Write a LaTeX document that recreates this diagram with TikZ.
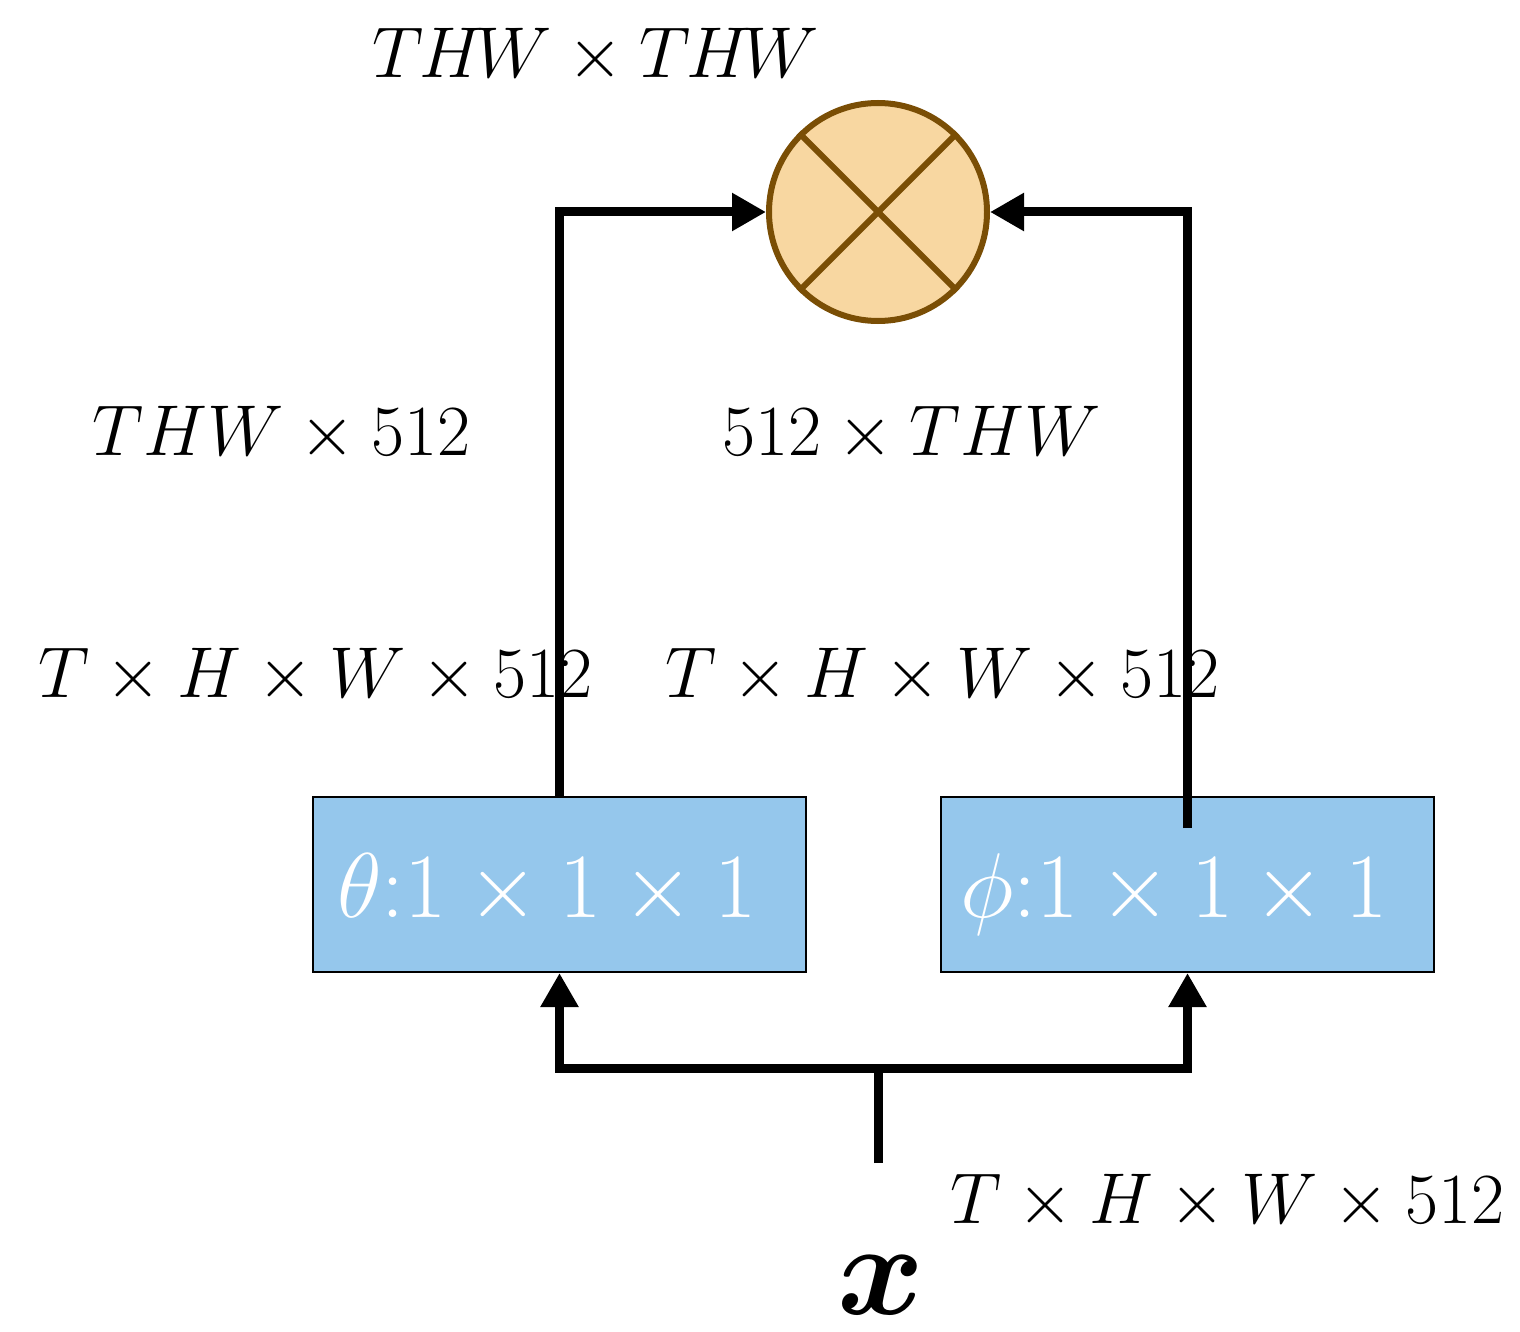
\RequirePackage{fix-cm}
\documentclass[tikz,border=0pt]{standalone}
\usetikzlibrary{arrows.meta}
\definecolor{mulfill}{HTML}{F8D7A1}
\definecolor{muledge}{HTML}{7A4E05}
\definecolor{convfill}{HTML}{95C7EC}
\begin{document}
\begin{tikzpicture}[x=0.5pt,y=-0.5pt,
  conv/.style={draw=black,line width=1pt,fill=convfill,minimum width=246.5pt,
    minimum height=87.5pt,inner sep=0pt},
  convlabel/.style={anchor=base west,inner sep=0pt,text=white,
    font=\fontsize{46}{52}\selectfont},
  flow/.style={line width=4.5pt},
  tip/.style={-{Triangle[length=17pt,width=18pt]}},
  dim/.style={anchor=base west,inner sep=0pt,font=\fontsize{36}{43}\selectfont},
  inputlabel/.style={anchor=base west,inner sep=0pt,font=\fontsize{66}{76}\selectfont\boldmath},
  ]
\useasboundingbox (0,0) rectangle (1520,1332);

% matrix product
\node[circle,draw=muledge,line width=3pt,fill=mulfill,minimum size=109pt,
  inner sep=0pt] (mul) at (878,212) {};
\draw[muledge,line width=3pt] (mul.45) -- (mul.225) (mul.135) -- (mul.315);

% 1x1x1 convolutions
\node[conv] (theta) at (559.5,884.5) {};
\node[conv] (phi) at (1187.5,884.5) {};
\node[convlabel] (thetalab) at (337,917) {$\theta{:}1\times1\times1$};
\node[convlabel] (philab) at (960,917) {$\phi{:}1\times1\times1$};

% connectors
\coordinate (phiout) at (1187,828);
\coordinate (xin) at (878,1163);
\coordinate (split) at (878,1068);
\draw[flow,tip] (theta.north) |- (mul.west);
\draw[flow,tip] (phiout) |- (mul.east);
\draw[flow] (xin) -- (split);
\draw[flow,tip] (split) -| (theta.south);
\draw[flow,tip] (split) -| (phi.south);

% tensor shapes
\node[dim] (dmul) at (372,78) {$T\mkern-1muH\mkern-2muW\times T\mkern-1muH\mkern-2muW$};
\node[dim] (dth) at (92,455) {$THW\times 512$};
\node[dim] (dph) at (722,455) {$512\times THW$};
\node[dim] (dthin) at (38,697) {$T\times H\times W\times 512$};
\node[dim] (dphin) at (665,697) {$T\times H\times W\times 512$};
\node[dim] (dx) at (950,1223) {$T\times H\times W\times 512$};
\node[inputlabel] (xlab) at (837,1314) {$x$};
\end{tikzpicture}
\end{document}
